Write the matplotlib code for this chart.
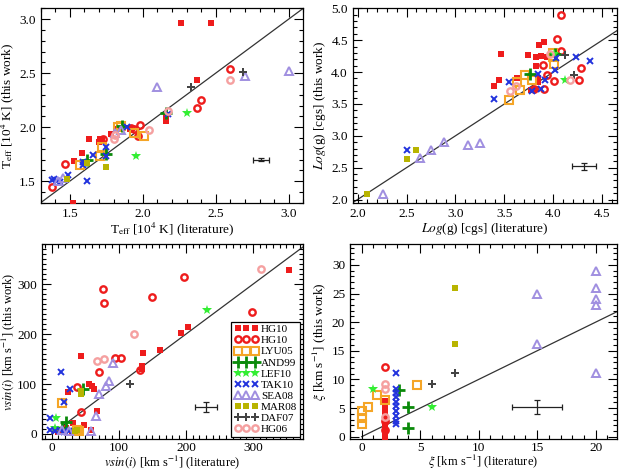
import matplotlib
matplotlib.use('Agg')
import matplotlib.pyplot as plt
from matplotlib.ticker import MultipleLocator, FormatStrFormatter

plt.rcParams['font.family'] = ['Liberation Serif', 'DejaVu Serif']
plt.rcParams['mathtext.fontset'] = 'stix'

# series order used in every panel and in the legend
series = ['HG10s', 'HG10c', 'LYU05', 'AND99', 'LEF10', 'TAK10', 'SEA08', 'MAR08', 'DAF07', 'HG06']
labels = ['HG10', 'HG10', 'LYU05', 'AND99', 'LEF10', 'TAK10', 'SEA08', 'MAR08', 'DAF07', 'HG06']

# ---- Teff [10^4 K]: literature / this work
teff_lit = {
    'HG10s': [2.26, 2.47, 2.37, 1.63, 1.58, 1.53, 1.52, 1.71, 1.70, 1.78, 1.82, 1.91, 2.16, 2.16, 1.72],
    'HG10c': [1.38, 1.47, 1.98, 1.97, 1.92, 1.73, 2.60, 2.40, 2.37, 1.94],
    'LYU05': [1.57, 1.71, 1.72, 1.85, 2.01, 1.94, 1.83],
    'AND99': [1.86, 1.75, 2.16, 1.62],
    'LEF10': [2.30, 1.95],
    'TAK10': [1.39, 1.41, 1.43, 1.38, 1.49, 1.59, 1.59, 1.66, 1.75, 1.75, 1.62, 1.89, 2.17],
    'SEA08': [2.10, 2.70, 3.00, 1.85, 1.45, 1.42, 1.81],
    'MAR08': [1.75, 1.48, 1.62],
    'DAF07': [2.33, 2.69],
    'HG06': [2.60, 2.17, 2.04, 1.80, 1.81],
}
teff_this = {
    'HG10s': [2.96, 2.96, 2.44, 1.89, 1.76, 1.69, 1.30, 1.89, 1.86, 1.94, 1.98, 1.98, 2.06, 2.09, 1.89],
    'HG10c': [1.45, 1.66, 2.02, 1.92, 1.99, 1.89, 2.54, 2.25, 2.18, 1.98],
    'LYU05': [1.65, 1.73, 1.82, 2.01, 1.92, 1.95, 2.00],
    'AND99': [2.01, 1.75, 2.13, 1.70],
    'LEF10': [2.13, 1.73],
    'TAK10': [1.52, 1.50, 1.49, 1.51, 1.56, 1.68, 1.65, 1.74, 1.82, 1.73, 1.50, 2.00, 2.12],
    'SEA08': [2.37, 2.47, 2.52, 1.97, 1.53, 1.50, 1.95],
    'MAR08': [1.63, 1.52, 1.67],
    'DAF07': [2.37, 2.51],
    'HG06': [2.44, 2.15, 1.97, 1.89, 1.93],
}

# ---- log g [cgs]
logg_lit = {
    'HG10s': [3.46, 3.39, 3.44, 3.63, 3.74, 3.85, 3.90, 3.82, 3.87, 3.93, 3.82, 3.84, 3.84, 3.77, 3.82],
    'HG10c': [4.04, 4.08, 4.08, 3.89, 3.93, 4.01, 4.26, 4.28, 3.90, 3.80],
    'LYU05': [3.55, 3.66, 3.63, 3.71, 3.78, 4.00, 4.00, 4.01],
    'AND99': [3.76, 4.02],
    'LEF10': [4.12, 4.01],
    'TAK10': [3.39, 3.55, 3.78, 3.87, 3.91, 3.84, 4.02, 4.03, 4.23, 4.37, 2.50],
    'SEA08': [2.64, 2.75, 2.88, 3.13, 3.25, 2.26],
    'MAR08': [2.60, 2.10, 2.50],
    'DAF07': [4.12, 4.21],
    'HG06': [3.56, 3.62, 4.17, 3.97],
}
logg_this = {
    'HG10s': [4.28, 3.78, 3.87, 3.91, 4.27, 4.43, 4.47, 4.23, 4.25, 4.24, 4.09, 3.90, 3.84, 3.72, 3.73],
    'HG10c': [4.52, 4.89, 4.33, 4.11, 3.95, 3.86, 3.87, 4.07, 3.73, 3.73],
    'LYU05': [3.56, 3.72, 3.84, 3.95, 3.87, 4.23, 4.30, 4.13],
    'AND99': [3.97, 4.28],
    'LEF10': [3.88, 4.28],
    'TAK10': [3.57, 3.85, 3.70, 3.73, 3.88, 3.97, 4.04, 4.22, 4.24, 4.18, 2.77],
    'SEA08': [2.65, 2.77, 2.90, 2.86, 2.88, 2.09],
    'MAR08': [2.77, 2.09, 2.63],
    'DAF07': [4.27, 3.95],
    'HG06': [3.70, 3.78, 3.87, 4.29],
}

# ---- vsin(i) [km/s]
vsini_lit = {
    'HG10s': [353, 203, 192, 161, 136, 134, 134, 43, 55, 60, 63, 24, 68, 48, 31, 59, 22, 10, 30],
    'HG10c': [76, 78, 150, 197, 299, 70, 94, 104, 38, 43, 131],
    'LYU05': [15, 41, 37],
    'AND99': [46, 22, 15],
    'LEF10': [232, 7, 5],
    'TAK10': [14, 27, 19, -3, -3, 5, 12, 25, 18],
    'SEA08': [92, 85, 81, 71, 66, 59, 25, 16],
    'MAR08': [44, 43, 38, 34],
    'DAF07': [117],
    'HG06': [312, 123, 67, 78],
}
vsini_this = {
    'HG10s': [329, 215, 202, 168, 162, 136, 131, 157, 101, 96, 90, 85, 46, 19, 23, 8, 11, 4, 2],
    'HG10c': [291, 262, 275, 315, 245, 125, 153, 153, 94, 45, 128],
    'LYU05': [63, 5, 8],
    'AND99': [90, 25, 12],
    'LEF10': [248, 33, 12],
    'TAK10': [124, 90, 64, 33, 8, 5, 7, 6, 4],
    'SEA08': [143, 106, 97, 80, 36, 6, 6, 7],
    'MAR08': [80, 86, 7, 5],
    'DAF07': [100],
    'HG06': [330, 200, 147, 150],
}

# ---- microturbulence xi [km/s]
xi_lit = {
    'HG10s': [2, 2, 2, 2, 2, 2, 2, 2],
    'HG10c': [2, 2, 2],
    'LYU05': [0, 0.05, 0, 0.5, 1.3, 4.7, 2],
    'AND99': [4, 4, 3.2],
    'LEF10': [0.95, 6],
    'TAK10': [2.95, 2.95, 2.95, 2.95, 2.95, 2.95, 2.95, 2.95, 2.95, 2.95],
    'SEA08': [15, 15, 20, 20, 20, 20, 20],
    'MAR08': [8, 8],
    'DAF07': [8, 6],
    'HG06': [2, 2, 2],
}
xi_this = {
    'HG10s': [0, 1, 1.6, 2.4, 3.2, 4.3, 5.2, 6.2],
    'HG10c': [12.1, 2.8, 1.2],
    'LYU05': [4.4, 3.3, 2.3, 5.2, 7.3, 9.1, 6.4],
    'AND99': [5.2, 1.5, 8.2],
    'LEF10': [8.3, 5.2],
    'TAK10': [11.2, 8.3, 7.6, 7.0, 6.1, 5.4, 4.5, 3.6, 2.8, 2.2],
    'SEA08': [25, 16.1, 28.9, 26, 24, 23, 11.2],
    'MAR08': [25.9, 16.1],
    'DAF07': [11.2, 9.2],
    'HG06': [9.2, 8.3, 3.5],
}

# typical error bars: (x, y, xerr, yerr)
err_teff = (2.81, 1.70, 0.056, 0.015)
err_logg = (4.31, 2.52, 0.124, 0.057)
err_vsini = (230, 55, 17, 10)
err_xi = (15, 5.2, 2.14, 1.25)

styles = {
    'HG10s': dict(marker='s', color='#ee1c1c', ms=4.4, mfc='#ee1c1c', mew=0),
    'HG10c': dict(marker='o', color='#ee1c1c', ms=4.6, mfc='none', mew=1.7),
    'LYU05': dict(marker='s', color='#f5a526', ms=5.5, mfc='none', mew=1.5),
    'AND99': dict(marker='+', color='#0a8a0a', ms=8, mew=2.0),
    'LEF10': dict(marker='*', color='#33ee33', ms=7.5, mew=0),
    'TAK10': dict(marker='x', color='#2233dd', ms=5, mew=1.4),
    'SEA08': dict(marker='^', color='#a08fe0', ms=5.5, mfc='none', mew=1.4),
    'MAR08': dict(marker='s', color='#b8b400', ms=4.6, mew=0),
    'DAF07': dict(marker='P', color='#444444', ms=6, mew=0),
    'HG06': dict(marker='o', color='#f5a0a0', ms=4.6, mfc='none', mew=1.7),
}


def style_axes(ax, xlim, ylim, xmaj, xmin, ymaj, ymin, fmt_x, fmt_y):
    ax.set_xlim(*xlim)
    ax.set_ylim(*ylim)
    ax.xaxis.set_major_locator(MultipleLocator(xmaj))
    ax.xaxis.set_minor_locator(MultipleLocator(xmin))
    ax.yaxis.set_major_locator(MultipleLocator(ymaj))
    ax.yaxis.set_minor_locator(MultipleLocator(ymin))
    ax.xaxis.set_major_formatter(FormatStrFormatter(fmt_x))
    ax.yaxis.set_major_formatter(FormatStrFormatter(fmt_y))
    ax.tick_params(which='both', direction='in', top=True, right=True, width=0.8, labelsize=9.5)
    ax.tick_params(which='major', length=6.5)
    ax.tick_params(which='minor', length=3.2)
    for sp in ax.spines.values():
        sp.set_linewidth(0.9)


def panel(ax, lit, this, err):
    ax.plot([0, 400], [0, 400], color='#333333', lw=0.9, zorder=1)
    handles = []
    for key in series:
        h, = ax.plot(lit[key], this[key], ls='none', clip_on=True, zorder=3, **styles[key])
        handles.append(h)
    ax.errorbar(err[0], err[1], xerr=err[2], yerr=err[3], fmt='none', ecolor='#222222',
                elinewidth=0.9, capsize=2, capthick=0.9, zorder=2)
    return handles


fig = plt.figure(figsize=(6.24, 4.70), dpi=100)
ax1 = fig.add_axes([0.0652, 0.5687, 0.4208, 0.4136])
ax2 = fig.add_axes([0.5652, 0.5687, 0.4236, 0.4136])
ax3 = fig.add_axes([0.0668, 0.0660, 0.4192, 0.4143])
ax4 = fig.add_axes([0.5609, 0.0660, 0.4274, 0.4143])

panel(ax1, teff_lit, teff_this, err_teff)
style_axes(ax1, (1.3, 3.1), (1.3, 3.1), 0.5, 0.1, 0.5, 0.1, '%.1f', '%.1f')
ax1.set_xlabel(r'T$_{\rm eff}$ [10$^4$ K] (literature)', fontsize=9.5, labelpad=1)
ax1.set_ylabel(r'T$_{\rm eff}$ [10$^4$ K] (this work)', fontsize=9.5, labelpad=2)

panel(ax2, logg_lit, logg_this, err_logg)
style_axes(ax2, (1.95, 4.65), (1.95, 5.0), 0.5, 0.1, 0.5, 0.1, '%.1f', '%.1f')
ax2.set_xlabel(r'$Log$(g) [cgs] (literature)', fontsize=9.5, labelpad=1)
ax2.set_ylabel(r'$Log$(g) [cgs] (this work)', fontsize=9.5, labelpad=2)

handles = panel(ax3, vsini_lit, vsini_this, err_vsini)
style_axes(ax3, (-15, 375), (-10, 380), 100, 10, 100, 10, '%d', '%d')
ax3.tick_params(axis='x', pad=2.5)
ax3.set_xlabel(r'$vsin(i)$ [km s$^{-1}$] (literature)', fontsize=9, labelpad=-1)
ax3.set_ylabel(r'$vsin(i)$ [km s$^{-1}$] (this work)', fontsize=9, labelpad=0)
leg = ax3.legend(handles, labels, loc='lower right', bbox_to_anchor=(0.987, 0.01),
                 borderaxespad=0, numpoints=3, fontsize=8, handlelength=2.2,
                 handletextpad=0.2, labelspacing=0.12, borderpad=0.25,
                 fancybox=False, framealpha=1, edgecolor='black')
leg.get_frame().set_linewidth(0.9)

panel(ax4, xi_lit, xi_this, err_xi)
style_axes(ax4, (-1, 21.8), (-0.4, 33.6), 5, 1, 5, 1, '%d', '%d')
ax4.tick_params(axis='x', pad=2.5)
ax4.set_xlabel(r'$\xi$ [km s$^{-1}$] (literature)', fontsize=9, labelpad=-1)
ax4.set_ylabel(r'$\xi$ [km s$^{-1}$] (this work)', fontsize=9.5, labelpad=2)

fig.savefig('out.png', dpi=100)
